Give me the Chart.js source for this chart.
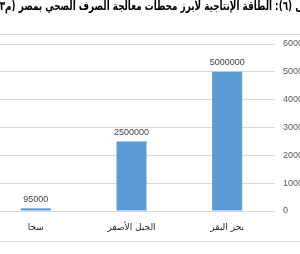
<!DOCTYPE html>
<html>
<head>
<meta charset="utf-8">
<script src="https://cdn.jsdelivr.net/npm/chart.js@4.4.1/dist/chart.umd.min.js"></script>
<style>
  html, body { margin: 0; padding: 0; background: #ffffff; overflow: hidden; width: 300px; height: 254px; }
  #wrap { position: absolute; left: -12px; top: 0; width: 340px; height: 254px; }
</style>
</head>
<body>
<div id="wrap"><canvas id="c"></canvas></div>
<script>
// ---- data (original chart order, drawn right-to-left) ----
const categories = ['بحر البقر', 'الجبل الأصفر', 'سحا'];
const capacity = [5000000, 2500000, 95000];
const yTickValues = [0, 1000000, 2000000, 3000000, 4000000, 5000000, 6000000];
const titleText = 'شكل (٦): الطاقة الإنتاجية لأبرز محطات معالجة الصرف الصحي بمصر (م٣/يوم)';

const frameLines = {
  id: 'frameLines',
  beforeDraw(chart) {
    const ctx = chart.ctx;
    ctx.save();
    ctx.strokeStyle = '#d9d9d9';
    ctx.lineWidth = 1;
    [34.5, 241.5].forEach(y => {
      ctx.beginPath();
      ctx.moveTo(0, y);
      ctx.lineTo(chart.width, y);
      ctx.stroke();
    });
    ctx.restore();
  }
};

const valueLabels = {
  id: 'valueLabels',
  afterDatasetsDraw(chart) {
    const ctx = chart.ctx;
    ctx.save();
    ctx.font = '9px "Liberation Sans", Arial, sans-serif';
    ctx.fillStyle = '#404040';
    ctx.textAlign = 'center';
    ctx.textBaseline = 'middle';
    chart.getDatasetMeta(0).data.forEach((bar, i) => {
      ctx.fillText(String(chart.data.datasets[0].data[i]), bar.x, bar.y - 9);
    });
    ctx.restore();
  }
};

const shiftTitle = {
  id: 'shiftTitle',
  afterLayout(chart) {
    if (chart.titleBlock) {
      chart.titleBlock.left -= 11;
      chart.titleBlock.right -= 11;
    }
  }
};

new Chart(document.getElementById('c'), {
  type: 'bar',
  data: {
    labels: categories,
    datasets: [{
      data: capacity,
      backgroundColor: '#5b9bd5',
      borderWidth: 0,
      barPercentage: 1,
      categoryPercentage: 0.314
    }]
  },
  options: {
    responsive: true,
    maintainAspectRatio: false,
    animation: false,
    layout: { padding: 0 },
    plugins: {
      legend: { display: false },
      tooltip: { enabled: false },
      title: {
        display: true,
        text: '\u202B' + titleText + '\u202C',
        color: '#000000',
        font: { family: '"DejaVu Sans", sans-serif', size: 12.6, weight: 'bold', lineHeight: 1.05 },
        padding: { top: 0, bottom: 30.77 }
      }
    },
    scales: {
      x: {
        reverse: true,
        grid: { display: false, drawTicks: false },
        border: { display: false },
        ticks: {
          color: '#262626',
          font: { family: '"DejaVu Sans", sans-serif', size: 9 },
          padding: 11
        },
        afterFit(scale) { scale.height = 43; }
      },
      y: {
        position: 'right',
        min: yTickValues[0],
        max: yTickValues[yTickValues.length - 1],
        afterBuildTicks(scale) { scale.ticks = yTickValues.map(v => ({ value: v })); },
        grid: { color: '#d9d9d9', drawTicks: false },
        border: { display: false },
        ticks: {
          color: '#595959',
          font: { family: '"Liberation Sans", Arial, sans-serif', size: 9 },
          padding: 8,
          callback: v => String(v)
        },
        afterFit(scale) { scale.width = 53; }
      }
    }
  },
  plugins: [frameLines, valueLabels, shiftTitle]
});
</script>
</body>
</html>
